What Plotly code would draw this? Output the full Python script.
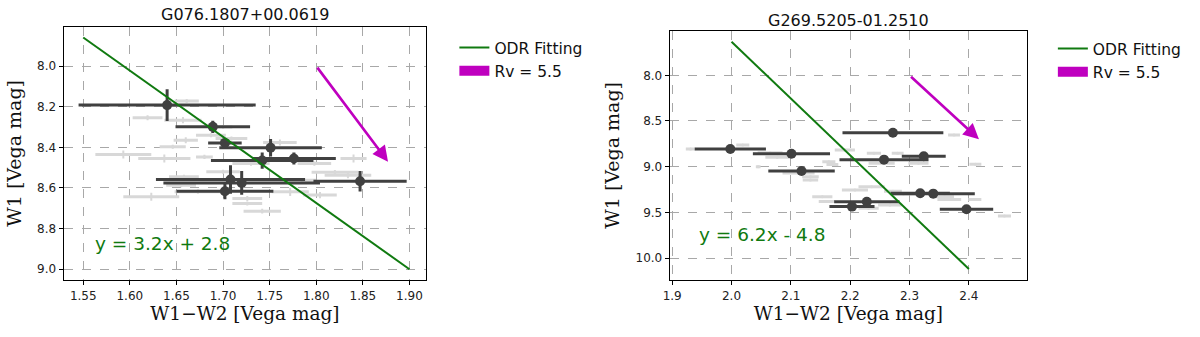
import plotly.graph_objects as go

# ---------------- data: left panel (G076.1807+00.0619) ----------------
title_l = "G076.1807+00.0619"
x_l = [1.640, 1.689, 1.702, 1.751, 1.742, 1.776, 1.708, 1.720, 1.702, 1.847]
y_l = [8.192, 8.299, 8.378, 8.402, 8.465, 8.455, 8.558, 8.575, 8.616, 8.567]
xerr_l = [0.095, 0.040, 0.018, 0.055, 0.055, 0.045, 0.080, 0.084, 0.052, 0.050]
yerr_l = [0.078, 0.030, 0.020, 0.043, 0.040, 0.030, 0.070, 0.058, 0.040, 0.050]

gx_l = [1.619, 1.657, 1.661, 1.687, 1.660, 1.646, 1.593, 1.637, 1.680, 1.709,
        1.761, 1.840, 1.798, 1.820, 1.834, 1.700, 1.658, 1.785, 1.655, 1.673,
        1.772, 1.804, 1.623, 1.726, 1.726, 1.742, 1.700, 1.730]
gy_l = [8.254, 8.266, 8.172, 8.340, 8.365, 8.397, 8.435, 8.455, 8.447, 8.356,
        8.376, 8.455, 8.480, 8.522, 8.537, 8.520, 8.545, 8.562, 8.586, 8.618,
        8.619, 8.635, 8.643, 8.652, 8.676, 8.714, 8.300, 8.480]
gxerr_l = [0.016, 0.020, 0.013, 0.016, 0.013, 0.014, 0.030, 0.028, 0.009, 0.017,
           0.018, 0.014, 0.018, 0.025, 0.025, 0.018, 0.016, 0.015, 0.016, 0.025,
           0.020, 0.018, 0.030, 0.016, 0.016, 0.020, 0.010, 0.020]
gyerr_l = [0.012, 0.015, 0.010, 0.010, 0.015, 0.010, 0.020, 0.020, 0.010, 0.010,
           0.015, 0.020, 0.010, 0.010, 0.015, 0.010, 0.010, 0.010, 0.010, 0.010,
           0.020, 0.015, 0.020, 0.012, 0.010, 0.012, 0.010, 0.010]

fit_x_l = [1.55, 1.90]
fit_y_l = [7.859, 9.0]
eq_l = "y = 3.2x + 2.8"
arrow_l = {"x0": 1.80, "y0": 8.0, "x1": 1.877, "y1": 8.471}

# ---------------- data: right panel (G269.5205-01.2510) ----------------
title_r = "G269.5205-01.2510"
x_r = [1.998, 2.101, 2.118, 2.272, 2.257, 2.324, 2.318, 2.340, 2.228, 2.203, 2.396]
y_r = [8.806, 8.858, 9.047, 8.628, 8.923, 8.886, 9.290, 9.295, 9.383, 9.437, 9.466]
xerr_r = [0.060, 0.065, 0.056, 0.085, 0.075, 0.037, 0.050, 0.070, 0.055, 0.038, 0.045]
yerr_r = [0.010] * 11

gx_r = [1.931, 2.019, 2.065, 2.077, 2.191, 2.164, 2.170, 2.045, 2.113, 2.133,
        2.133, 2.375, 2.240, 2.280, 2.253, 2.315, 2.411, 2.236, 2.208, 2.153,
        2.161, 2.359, 2.367, 2.410, 2.267, 2.231, 2.460, 2.290, 2.272]
gy_r = [8.806, 8.763, 8.847, 8.897, 8.817, 8.945, 8.975, 9.000, 9.070, 9.110,
        9.145, 8.653, 8.853, 8.853, 8.963, 8.963, 8.974, 9.220, 9.255, 9.330,
        9.380, 9.330, 9.360, 9.360, 9.420, 9.455, 9.540, 9.300, 9.270]
gxerr_r = [0.008, 0.011, 0.021, 0.020, 0.017, 0.011, 0.010, 0.004, 0.027, 0.014,
           0.013, 0.010, 0.012, 0.010, 0.022, 0.017, 0.010, 0.022, 0.022, 0.017,
           0.014, 0.016, 0.020, 0.011, 0.020, 0.017, 0.011, 0.020, 0.015]
gyerr_r = [0.010] * len(gx_r)

fit_x_r = [2.0, 2.4]
fit_y_r = [7.632, 10.12]
eq_r = "y = 6.2x - 4.8"
arrow_r = {"x0": 2.30, "y0": 8.0, "x1": 2.417, "y1": 8.70}

# ticks
xt_l = [1.55, 1.60, 1.65, 1.70, 1.75, 1.80, 1.85, 1.90]
yt_l = [8.0, 8.2, 8.4, 8.6, 8.8, 9.0]
xt_r = [1.9, 2.0, 2.1, 2.2, 2.3, 2.4]
yt_r = [8.0, 8.5, 9.0, 9.5, 10.0]

xlabel = "W1\u2212W2 [Vega mag]"
ylabel = "W1 [Vega mag]"
fit_name = "ODR Fitting"
rv_name = "Rv = 5.5"

# ---------------- styles ----------------
DARK = "#404040"
GRAY = "#d8d8d8"
GREEN = "#107a10"
MAG = "#bf00bf"
SANS = "DejaVu Sans"
SERIF = "DejaVu Serif"

fig = go.Figure()


def add_panel(xa, ya, legend, gx, gy, gxe, gye, x, y, xe, ye, fx, fy):
    fig.add_trace(go.Scatter(
        x=gx, y=gy, mode="markers", xaxis=xa, yaxis=ya, showlegend=False,
        marker=dict(color=GRAY, size=3),
        error_x=dict(type="data", array=gxe, color=GRAY, thickness=3, width=0),
        error_y=dict(type="data", array=gye, color=GRAY, thickness=2, width=0),
        hoverinfo="skip"))
    fig.add_trace(go.Scatter(
        x=x, y=y, mode="markers", xaxis=xa, yaxis=ya, showlegend=False,
        marker=dict(color=DARK, size=10),
        error_x=dict(type="data", array=xe, color=DARK, thickness=3, width=0),
        error_y=dict(type="data", array=ye, color=DARK, thickness=3, width=0)))
    fig.add_trace(go.Scatter(
        x=fx, y=fy, mode="lines", xaxis=xa, yaxis=ya, name=fit_name,
        legend=legend, line=dict(color=GREEN, width=2)))
    fig.add_trace(go.Scatter(
        x=[None], y=[None], mode="lines", xaxis=xa, yaxis=ya, name=rv_name,
        legend=legend, line=dict(color=MAG, width=11)))


add_panel("x", "y", "legend", gx_l, gy_l, gxerr_l, gyerr_l, x_l, y_l, xerr_l, yerr_l,
          fit_x_l, fit_y_l)
add_panel("x2", "y2", "legend2", gx_r, gy_r, gxerr_r, gyerr_r, x_r, y_r, xerr_r, yerr_r,
          fit_x_r, fit_y_r)

H = 337.0
W = 1200.0


def xaxis_style(domain, rng, tickvals, fmt, anchor):
    return dict(
        domain=domain, range=rng, anchor=anchor, tickvals=tickvals,
        ticktext=[format(v, fmt) for v in tickvals],
        showline=True, mirror=True, linecolor="black", linewidth=1.3,
        ticks="outside", ticklen=4, tickcolor="black",
        showgrid=True, gridcolor="#a8a8a8", griddash="dash", gridwidth=1,
        zeroline=False, tickfont=dict(family=SANS, size=12, color="#222"),
        title=dict(text=xlabel, font=dict(family=SERIF, size=18.5, color="#111"), standoff=4))


def yaxis_style(domain, rng, tickvals, fmt, anchor):
    return dict(
        domain=domain, range=rng, anchor=anchor, tickvals=tickvals,
        ticktext=[format(v, fmt) for v in tickvals],
        showline=True, mirror=True, linecolor="black", linewidth=1.3,
        ticks="outside", ticklen=4, tickcolor="black",
        showgrid=True, gridcolor="#a8a8a8", griddash="dash", gridwidth=1,
        zeroline=False, tickfont=dict(family=SANS, size=12, color="#222"),
        title=dict(text=ylabel, font=dict(family=SERIF, size=19, color="#111"), standoff=10))


fig.update_layout(
    width=1200, height=337, autosize=False,
    margin=dict(l=0, r=0, t=0, b=0),
    paper_bgcolor="white", plot_bgcolor="white",
    xaxis=xaxis_style([57 / W, 421.7 / W], [1.529, 1.918], xt_l, ".2f", "y"),
    yaxis=yaxis_style([(H - 280) / H, (H - 26.7) / H], [9.053, 7.806], yt_l, ".1f", "x"),
    xaxis2=xaxis_style([666.7 / W, 1026 / W], [1.896, 2.498], xt_r, ".1f", "y2"),
    yaxis2=yaxis_style([(H - 280) / H, (H - 30.7) / H], [10.24, 7.512], yt_r, ".1f", "x2"),
    legend=dict(x=450 / W, y=1 - 31 / H, xanchor="left", yanchor="top",
                font=dict(family=SANS, size=15.5, color="#111"), bgcolor="rgba(0,0,0,0)",
                tracegroupgap=0),
    legend2=dict(x=1052 / W, y=1 - 32 / H, xanchor="left", yanchor="top",
                 font=dict(family=SANS, size=15.5, color="#111"), bgcolor="rgba(0,0,0,0)",
                 tracegroupgap=0),
)

annotations = [
    dict(text=title_l, xref="paper", yref="paper", x=239 / W, y=1 - 15 / H,
         showarrow=False, xanchor="center", yanchor="middle",
         font=dict(family=SANS, size=16, color="#111")),
    dict(text=title_r, xref="paper", yref="paper", x=846 / W, y=1 - 20 / H,
         showarrow=False, xanchor="center", yanchor="middle",
         font=dict(family=SANS, size=16, color="#111")),
    dict(text=eq_l, xref="x", yref="y", x=1.5607, y=8.873, showarrow=False,
         xanchor="left", yanchor="middle", font=dict(family=SANS, size=18.5, color=GREEN)),
    dict(text=eq_r, xref="x2", yref="y2", x=1.942, y=9.74, showarrow=False,
         xanchor="left", yanchor="middle", font=dict(family=SANS, size=18.5, color=GREEN)),
    dict(text="", xref="x", yref="y", x=arrow_l["x1"], y=arrow_l["y1"],
         axref="x", ayref="y", ax=arrow_l["x0"], ay=arrow_l["y0"], showarrow=True,
         arrowhead=2, arrowsize=1.2, arrowwidth=2.6, arrowcolor=MAG),
    dict(text="", xref="x2", yref="y2", x=arrow_r["x1"], y=arrow_r["y1"],
         axref="x2", ayref="y2", ax=arrow_r["x0"], ay=arrow_r["y0"], showarrow=True,
         arrowhead=2, arrowsize=1.2, arrowwidth=2.6, arrowcolor=MAG),
]
fig.update_layout(annotations=annotations)

fig.write_html("out.html")
